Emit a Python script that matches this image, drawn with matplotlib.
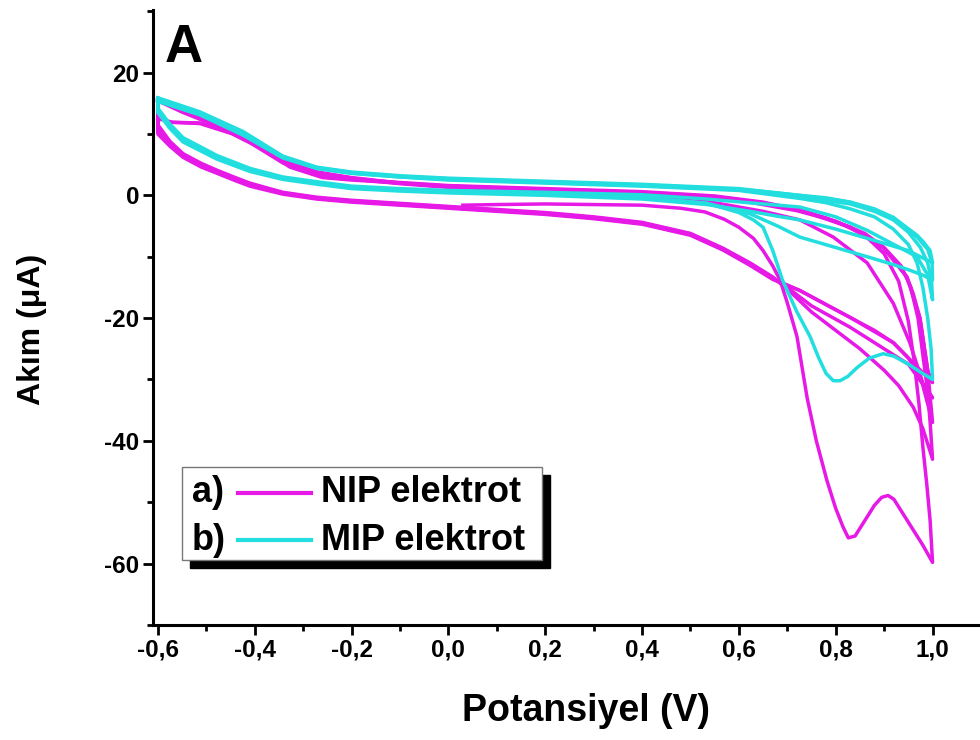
import matplotlib
matplotlib.use("Agg")
import matplotlib.pyplot as plt
from matplotlib.patches import Rectangle
from matplotlib.lines import Line2D
from matplotlib.ticker import MultipleLocator, FuncFormatter

plt.rcParams['font.family'] = ['Liberation Sans', 'DejaVu Sans']
plt.rcParams['font.weight'] = 'bold'

# NIP electrode (magenta), cycles: E in V, I in uA
nip1_E = [0.03, 0.1, 0.2, 0.3, 0.4, 0.48, 0.53, 0.57, 0.6, 0.63, 0.65, 0.67, 0.685, 0.70, 0.72,
          0.741, 0.76, 0.782, 0.80, 0.815, 0.826, 0.84, 0.86, 0.88, 0.895, 0.908, 0.92, 0.94, 0.96,
          0.98, 1.0,
          0.995, 0.988, 0.98, 0.972, 0.962, 0.95, 0.93, 0.90, 0.86, 0.80, 0.72, 0.6, 0.4, 0.2, 0.0,
          -0.1, -0.2, -0.27, -0.34, -0.41, -0.48, -0.55, -0.6]
nip1_I = [-1.6, -1.5, -1.4, -1.5, -1.6, -2.1, -2.7, -3.9, -5.2, -7.0, -9.0, -11.5, -13.8, -17.5, -23,
          -33, -40, -46.5, -51, -54, -55.8, -55.5, -53, -50.5, -49.2, -48.9, -49.5, -52, -54.5,
          -57, -59.8,
          -53, -47, -41, -34, -27, -20.5, -14, -9.5, -6.5, -4.2, -2.5, -0.8, 0.3, 0.9, 1.5,
          2.0, 2.9, 3.8, 5.7, 9.0, 11.7, 13.9, 15.8]

nip2_E = [-0.6, -0.6, -0.575, -0.548, -0.51, -0.478, -0.44, -0.41, -0.342, -0.272, -0.2, -0.1, 0.0,
          0.1, 0.2, 0.3, 0.4, 0.5, 0.567, 0.623, 0.67, 0.71, 0.75, 0.8, 0.85, 0.9, 0.93, 0.96, 0.98,
          1.0,
          0.995, 0.99, 0.98, 0.97, 0.955, 0.935, 0.9, 0.86, 0.83, 0.78, 0.726, 0.65, 0.55, 0.4, 0.2,
          0.0, -0.1, -0.2, -0.26, -0.327, -0.39, -0.445, -0.513, -0.569, -0.6]
nip2_I = [15.8, 11.5, 8.8, 6.8, 5.2, 4.1, 2.9, 2.0, 0.5, -0.3, -0.8, -1.3, -1.8,
          -2.3, -2.8, -3.5, -4.4, -6.2, -8.6, -11.0, -13.3, -16.0, -19, -22, -25, -28.5, -31, -34.5,
          -38, -43,
          -37, -32, -26, -20, -15, -11.5, -8.5, -6.2, -5.2, -3.7, -2.4, -1.2, -0.2, 0.5, 1.0,
          1.5, 2.0, 2.5, 2.9, 4.6, 7.8, 10.0, 11.7, 11.9, 12.5]

nip3_E = [-0.6, -0.6, -0.575, -0.548, -0.51, -0.478, -0.44, -0.41, -0.342, -0.272, -0.2, -0.1, 0.0,
          0.1, 0.2, 0.3, 0.4, 0.5, 0.567, 0.623, 0.67, 0.726, 0.78, 0.83, 0.88, 0.919, 0.95, 0.975,
          1.0,
          0.99, 0.974, 0.96, 0.947, 0.92, 0.898, 0.86, 0.83, 0.78, 0.726, 0.65, 0.55, 0.4, 0.2, 0.0,
          -0.1, -0.2, -0.272, -0.342, -0.41, -0.478, -0.548, -0.6]
nip3_I = [12.5, 10.5, 8.2, 6.4, 4.8, 3.8, 2.6, 1.7, 0.3, -0.5, -1.0, -1.5, -2.0,
          -2.5, -3.0, -3.7, -4.6, -6.4, -8.8, -11.3, -13.6, -15.5, -17.8, -19.9, -22.0, -24.0, -26.5,
          -29.5, -37,
          -28.5, -20, -16, -13.3, -10.5, -8.5, -6.5, -5.2, -3.7, -2.4, -1.3, -0.3, 0.4, 0.9, 1.4,
          2.0, 2.8, 3.7, 5.5, 8.8, 11.5, 13.7, 15.6]

nip4_E = [-0.6, -0.6, -0.575, -0.548, -0.51, -0.478, -0.44, -0.41, -0.342, -0.272, -0.2, -0.1, 0.0,
          0.1, 0.2, 0.3, 0.4, 0.5, 0.567, 0.623, 0.67, 0.70, 0.75, 0.83, 0.90, 0.95, 1.0,
          0.98, 0.953, 0.919, 0.865, 0.795, 0.726, 0.65, 0.55, 0.4, 0.2, 0.0,
          -0.1, -0.2, -0.272, -0.342, -0.41, -0.478, -0.548, -0.6]
nip4_I = [15.6, 11.0, 8.5, 6.6, 5.0, 3.9, 2.7, 1.8, 0.4, -0.4, -0.9, -1.4, -1.9,
          -2.4, -2.9, -3.6, -4.5, -6.3, -8.7, -11.1, -13.4, -15.0, -18.0, -21.5, -25.0, -27.5, -33,
          -30.6, -24, -17.6, -11, -6.8, -4.0, -2.6, -1.2, 0.2, 0.8, 1.3,
          1.9, 2.7, 3.6, 5.3, 8.6, 11.3, 13.5, 15.4]

nip5_E = [-0.6, -0.6, -0.575, -0.548, -0.51, -0.478, -0.44, -0.41, -0.342, -0.272, -0.2, -0.1, 0.0,
          0.1, 0.2, 0.3, 0.4, 0.5, 0.567, 0.623, 0.67, 0.726, 0.83, 0.919, 0.99, 1.0,
          0.99, 0.974, 0.947, 0.898, 0.83, 0.726, 0.65, 0.55, 0.4, 0.2, 0.0,
          -0.1, -0.2, -0.26, -0.327, -0.39, -0.445, -0.513, -0.569]
nip5_I = [15.4, 10.0, 8.0, 6.2, 4.6, 3.6, 2.4, 1.5, 0.2, -0.6, -1.1, -1.6, -2.1,
          -2.6, -3.1, -3.8, -4.7, -6.5, -8.9, -11.4, -13.7, -15.5, -19.9, -24.0, -29.7, -30.5,
          -28.5, -20, -13.3, -8.5, -5.2, -2.4, -1.1, -0.1, 0.6, 1.1, 1.6,
          2.1, 2.6, 3.0, 4.7, 7.9, 10.1, 11.8, 11.9]

# MIP electrode (cyan)
mip1_E = [0.03, 0.2, 0.4, 0.534, 0.6, 0.63, 0.65, 0.67, 0.69, 0.72, 0.747, 0.765, 0.78, 0.795,
          0.809, 0.825, 0.845, 0.87, 0.898, 0.92, 0.95, 0.975, 1.0,
          0.997, 0.99, 0.98, 0.968, 0.95, 0.919, 0.88, 0.83, 0.78, 0.726, 0.6, 0.4, 0.2, 0.0,
          -0.1, -0.2, -0.272, -0.342, -0.424, -0.513, -0.6]
mip1_I = [0.5, 0.3, -0.3, -1.3, -2.8, -4.0, -5.2, -9.0, -13.8, -19, -23, -26.5, -29, -30.2,
          -30.2, -29.5, -28, -26.5, -25.8, -26.2, -27.5, -28.8, -30,
          -25, -20, -15, -11, -8, -5.5, -3.5, -2.2, -1.2, -0.5, 0.8, 1.5, 2.0, 2.5,
          3.0, 3.6, 4.4, 6.2, 10.0, 13.3, 15.5]

mip2_E = [-0.6, -0.6, -0.575, -0.548, -0.478, -0.41, -0.342, -0.27, -0.2, -0.1, 0.0, 0.2, 0.4,
          0.534, 0.623, 0.68, 0.726, 0.8, 0.865, 0.92, 0.953, 0.98, 1.0,
          0.999, 0.99, 0.968, 0.94, 0.919, 0.88, 0.83, 0.78, 0.726, 0.6, 0.4, 0.2, 0.0,
          -0.1, -0.2, -0.272, -0.342, -0.424, -0.513, -0.6]
mip2_I = [15.5, 13.9, 11.2, 9.0, 6.2, 4.1, 2.8, 2.0, 1.3, 0.9, 0.6, 0.2, -0.4,
          -1.3, -3.0, -5.0, -6.8, -8.5, -10.0, -11.3, -12.2, -13.0, -13.8,
          -11, -8.8, -6.8, -5.0, -3.6, -2.2, -1.1, -0.4, 0.0, 1.0, 1.7, 2.2, 2.7,
          3.1, 3.7, 4.5, 6.3, 10.2, 13.5, 15.8]

mip3_E = [-0.6, -0.6, -0.575, -0.548, -0.478, -0.41, -0.342, -0.27, -0.2, -0.1, 0.0, 0.2, 0.4,
          0.534, 0.62, 0.68, 0.726, 0.8, 0.865, 0.92, 0.968, 0.99, 1.0,
          0.998, 0.99, 0.975, 0.95, 0.919, 0.88, 0.83, 0.726, 0.6, 0.4, 0.2, 0.0,
          -0.1, -0.2, -0.272, -0.342, -0.424, -0.513, -0.6]
mip3_I = [15.8, 14.2, 11.6, 9.4, 6.5, 4.4, 3.0, 2.2, 1.5, 1.1, 0.8, 0.5, 0.1,
          -0.6, -1.2, -1.6, -1.9, -3.5, -5.7, -8.0, -10.0, -13, -17,
          -14, -11, -8.5, -6, -4, -2.6, -1.4, -0.2, 0.9, 1.6, 2.1, 2.6,
          3.0, 3.6, 4.4, 6.1, 9.8, 13.1, 15.3]

mip4_E = [-0.6, -0.6, -0.575, -0.548, -0.478, -0.41, -0.342, -0.27, -0.2, -0.1, 0.0, 0.2, 0.4,
          0.534, 0.623, 0.68, 0.726, 0.8, 0.865, 0.95, 1.0,
          0.995, 0.98, 0.968, 0.919, 0.83, 0.726, 0.6, 0.4, 0.2, 0.0,
          -0.1, -0.2, -0.272, -0.342, -0.424, -0.513, -0.6]
mip4_I = [15.3, 13.5, 10.9, 8.7, 5.9, 3.9, 2.6, 1.8, 1.1, 0.7, 0.4, 0.0, -0.6,
          -1.5, -2.6, -3.4, -4.0, -5.5, -7.0, -9.0, -11,
          -9, -7.5, -6.5, -3.6, -1.1, 0.0, 1.1, 1.8, 2.3, 2.8,
          3.2, 3.8, 4.6, 6.4, 10.4, 13.6, 15.9]

nip_cycles = [(nip1_E, nip1_I), (nip2_E, nip2_I), (nip3_E, nip3_I), (nip4_E, nip4_I), (nip5_E, nip5_I)]
mip_cycles = [(mip1_E, mip1_I), (mip2_E, mip2_I), (mip3_E, mip3_I), (mip4_E, mip4_I)]

nip_color = '#e619e6'
mip_color = '#22dede'

fig = plt.figure(figsize=(9.8, 7.4), dpi=100)
ax = fig.add_axes([153/980, 1 - 625/740, 827/980, 615/740])

for E, I in nip_cycles:
    ax.plot(E, I, color=nip_color, lw=2.5, solid_joinstyle='round')
for E, I in mip_cycles:
    ax.plot(E, I, color=mip_color, lw=2.5, solid_joinstyle='round')

ax.set_xlim(-0.61, 1.098)
ax.set_ylim(-70, 30.2)
ax.spines['top'].set_visible(False)
ax.spines['right'].set_visible(False)
ax.spines['left'].set_linewidth(2.2)
ax.spines['bottom'].set_linewidth(2.2)

ax.xaxis.set_major_locator(MultipleLocator(0.2))
ax.xaxis.set_minor_locator(MultipleLocator(0.1))
ax.yaxis.set_major_locator(MultipleLocator(20))
ax.yaxis.set_minor_locator(MultipleLocator(10))
ax.xaxis.set_major_formatter(FuncFormatter(lambda v, p: ('%.1f' % v).replace('.', ',')))
ax.yaxis.set_major_formatter(FuncFormatter(lambda v, p: '%d' % round(v)))
ax.tick_params(which='major', direction='out', length=7, width=2, labelsize=17.5, pad=3)
ax.tick_params(which='minor', direction='out', length=4, width=2)
for lab in ax.get_xticklabels() + ax.get_yticklabels():
    lab.set_fontweight('bold')

ax.set_xlabel('Potansiyel (V)', fontsize=27, fontweight='bold')
ax.xaxis.set_label_coords(0.524, -0.11)
ax.set_ylabel('Akım (μA)', fontsize=23, fontweight='bold')
ax.yaxis.set_label_coords(-0.128, 0.48)

fig.text(165/980, 1 - 62/740, 'A', fontsize=38, fontweight='bold', va='baseline')

# legend box with black drop shadow
fig.add_artist(Rectangle((190/980, 1 - 568/740), 360/980, 93/740, transform=fig.transFigure,
                         facecolor='black', edgecolor='black', zorder=5))
fig.add_artist(Rectangle((182/980, 1 - 560/740), 360/980, 93/740, transform=fig.transFigure,
                         facecolor='white', edgecolor='#777777', lw=1, zorder=6))
labels = ['a)', 'b)']
names = ['NIP elektrot', 'MIP elektrot']
colors = [nip_color, mip_color]
for k, yy in enumerate([493, 540]):
    yf = 1 - yy / 740
    fig.text(192/980, yf, labels[k], fontsize=26, fontweight='bold', va='center', zorder=7)
    fig.add_artist(Line2D([238/980, 311/980], [yf, yf], transform=fig.transFigure,
                          color=colors[k], lw=3, zorder=7))
    fig.text(321/980, yf, names[k], fontsize=26, fontweight='bold', va='center', zorder=7)

fig.savefig('out.png', dpi=100)
